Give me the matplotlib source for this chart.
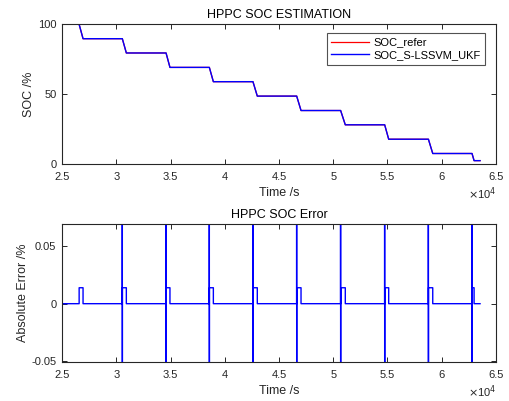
import matplotlib
matplotlib.use("Agg")
import matplotlib.pyplot as plt
import numpy as np

plt.rcParams['font.family'] = ['Liberation Sans', 'DejaVu Sans']

# ---- data (time in seconds) ----
drop_start = [26570, 30560, 34590, 38580, 42600, 46630, 50680, 54740, 58770, 62790]
drop_end   = [26940, 30930, 34950, 38950, 43000, 47030, 51110, 55110, 59170, 62980]
soc_levels = [100, 89.5, 79.3, 69.0, 58.8, 48.5, 38.2, 28.0, 17.7, 7.5, 2.4]
t_begin = 25000
t_finish = 63530

err_pulse = 0.0138
spike_times = drop_start[1:]
spike_amp = 0.5

xticks = [25000, 30000, 35000, 40000, 45000, 50000, 55000, 60000, 65000]
xtick_labels = ['2.5', '3', '3.5', '4', '4.5', '5', '5.5', '6', '6.5']
soc_yticks = [0, 50, 100]
err_yticks = [-0.05, 0, 0.05]
err_ytick_labels = ['-0.05', '0', '0.05']

# ---- build series ----
t_soc = [t_begin]
soc = [soc_levels[0]]
for i, (ts, te) in enumerate(zip(drop_start, drop_end)):
    t_soc += [ts, te]
    soc += [soc_levels[i], soc_levels[i + 1]]
t_soc.append(t_finish)
soc.append(soc_levels[-1])

t_err = [t_begin]
err = [0.0]
for i, (ts, te) in enumerate(zip(drop_start, drop_end)):
    if ts in spike_times:
        t_err += [ts - 8, ts - 4, ts + 4, ts + 8]
        err += [0.0, spike_amp, -spike_amp, 0.0]
    t_err += [ts + 10, ts + 10, te, te]
    err += [0.0, err_pulse, err_pulse, 0.0]
t_err.append(t_finish)
err.append(0.0)

# ---- figure ----
W, H = 510, 401
fig = plt.figure(figsize=(W / 100, H / 100), dpi=100)
axc = '#262626'

def style(ax):
    for s in ax.spines.values():
        s.set_color(axc)
        s.set_linewidth(0.8)
    ax.tick_params(direction='in', length=3.5, width=0.7, colors=axc,
                   labelsize=8, top=True, right=True)
    ax.tick_params(axis='x', pad=6)
    ax.tick_params(axis='y', pad=4)
    ax.set_xlim(25000, 65000)
    ax.set_xticks(xticks)
    ax.set_xticklabels(xtick_labels)
    ax.text(1.0, -0.155, r'$\times$10$^{4}$', transform=ax.transAxes,
            ha='right', va='top', fontsize=8, color=axc)

ax1 = fig.add_axes([62 / W, 1 - 164 / H, 434 / W, 140 / H])
ax1.plot(t_soc, soc, color='red', lw=0.9, label='SOC_refer')
ax1.plot(t_soc, soc, color='blue', lw=1.0, label='SOC_S-LSSVM_UKF')
style(ax1)
ax1.set_ylim(0, 100)
ax1.set_yticks(soc_yticks)
ax1.set_title('HPPC SOC ESTIMATION', fontsize=9, color='black', pad=4)
ax1.set_xlabel('Time /s', fontsize=9, color=axc, labelpad=3)
ax1.set_ylabel('SOC /%', fontsize=9, color=axc, labelpad=2)
leg = ax1.legend(loc='upper right', bbox_to_anchor=(0.9747, 0.9357), fontsize=8,
                 frameon=True, fancybox=False, handlelength=3.4, handletextpad=0.4,
                 borderpad=0.4, labelspacing=0.25, borderaxespad=0)
leg.get_frame().set_edgecolor(axc)
leg.get_frame().set_linewidth(0.8)

ax2 = fig.add_axes([62 / W, 1 - 362 / H, 434 / W, 138 / H])
ax2.plot(t_err, err, color='blue', lw=1.0)
style(ax2)
ax2.set_ylim(-0.0505, 0.069)
ax2.set_yticks(err_yticks)
ax2.set_yticklabels(err_ytick_labels)
ax2.set_title('HPPC SOC Error', fontsize=9, color='black', pad=4)
ax2.set_xlabel('Time /s', fontsize=9, color=axc, labelpad=3)
ax2.set_ylabel('Absolute Error /%', fontsize=9, color=axc, labelpad=2)

fig.savefig('out.png', dpi=100, facecolor='white')
